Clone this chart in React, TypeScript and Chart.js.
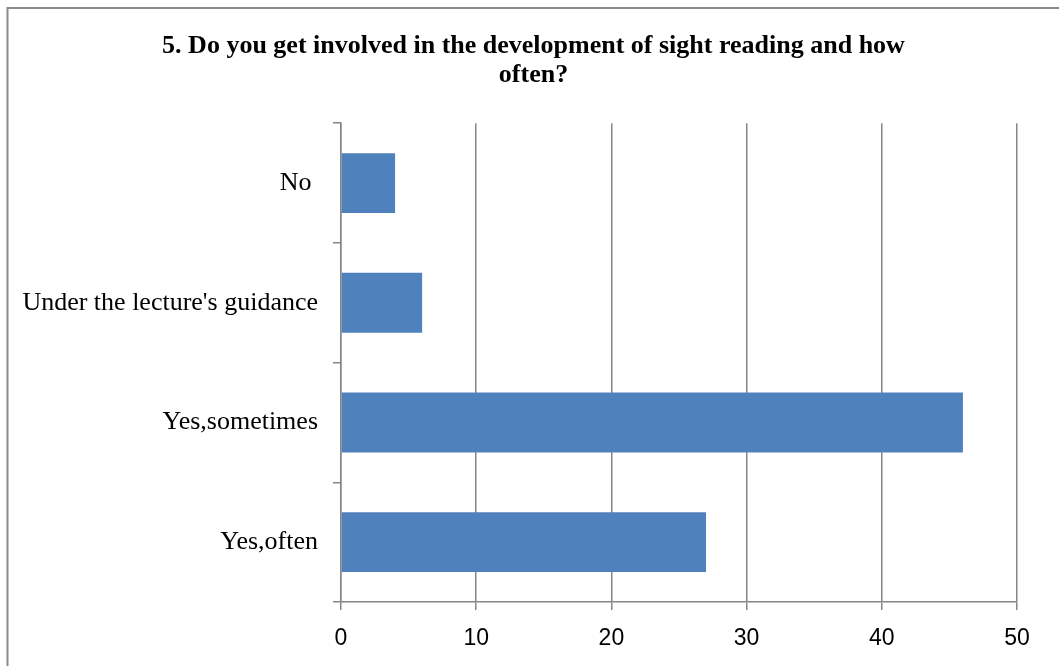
import React, { useEffect, useRef } from "react";
import { Chart, registerables } from "chart.js";

Chart.register(...registerables);

const categories = ["No ", "Under the lecture's guidance", "Yes,sometimes", "Yes,often"];
const values = [4, 6, 46, 27];
const titleLines = ["5. Do you get involved in the development of sight reading and how", "often?"];
const xMin = 0;
const xMax = 50;
const xStep = 10;

const GRID = "#868686";

const frame = {
  id: "frame",
  beforeDraw(chart: any) {
    const ctx = chart.ctx;
    ctx.save();
    ctx.fillStyle = "#ffffff";
    ctx.fillRect(0, 0, chart.width, chart.height);
    ctx.strokeStyle = "#8a8a8a";
    ctx.lineWidth = 2;
    ctx.beginPath();
    ctx.moveTo(7.5, chart.height + 5);
    ctx.lineTo(7.5, 8);
    ctx.lineTo(chart.width + 5, 8);
    ctx.stroke();
    ctx.restore();
  },
};

// center the title over the framed chart box (like the original) rather than over the padded area
const titleSpan = {
  id: "titleSpan",
  afterLayout(chart: any) {
    const t = chart.titleBlock;
    if (t) {
      t.left = 8;
      t.right = chart.width;
      t.width = t.right - t.left;
    }
  },
};

export default function App() {
  const ref = useRef<HTMLCanvasElement | null>(null);
  useEffect(() => {
    if (!ref.current) return;
    const chart = new Chart(ref.current, {
      type: "bar",
      data: {
        labels: categories,
        datasets: [
          {
            data: values,
            backgroundColor: "#4F81BD",
            borderWidth: 0,
            categoryPercentage: 0.5,
            barPercentage: 1,
          },
        ],
      },
      plugins: [frame, titleSpan],
      options: {
        indexAxis: "y",
        animation: false,
        responsive: false,
        maintainAspectRatio: false,
        layout: { padding: { left: 0, right: 42, top: 0, bottom: 0 } },
        plugins: {
          legend: { display: false },
          tooltip: { enabled: false },
          title: {
            display: true,
            text: titleLines,
            color: "#000000",
            font: { family: "'Liberation Serif', serif", size: 26, weight: "bold", lineHeight: 1.12 },
            padding: { top: 32, bottom: 33 },
          },
        },
        scales: {
          x: {
            min: xMin,
            max: xMax,
            ticks: {
              stepSize: xStep,
              color: "#000000",
              font: { family: "'Liberation Sans', sans-serif", size: 23 },
              padding: 15,
              maxRotation: 0,
            },
            grid: { color: GRID, lineWidth: 1.5, tickLength: 8, drawTicks: true },
            border: { color: GRID, width: 1.5 },
            afterFit(scale: any) {
              scale.height = 64;
            },
          },
          y: {
            ticks: {
              color: "#000000",
              font: { family: "'Liberation Serif', serif", size: 26 },
              padding: 15,
            },
            grid: { color: GRID, lineWidth: 1.5, tickLength: 8, drawOnChartArea: false, offset: true },
            border: { color: GRID, width: 1.5 },
            afterFit(scale: any) {
              scale.width = 341;
            },
          },
        },
      },
    });
    return () => chart.destroy();
  }, []);
  return (
    <div style={{ position: "fixed", left: 0, top: 0, width: 1059, height: 666 }}>
      <canvas ref={ref} width={1059} height={666} style={{ width: 1059, height: 666, display: "block" }} />
    </div>
  );
}
